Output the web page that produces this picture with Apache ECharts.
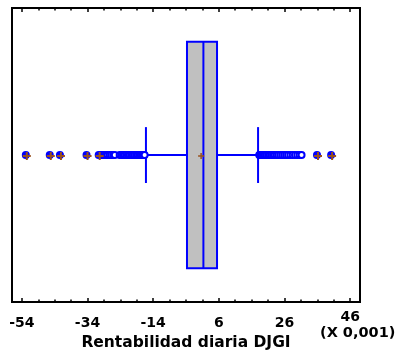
<!DOCTYPE html>
<html>
<head>
<meta charset="utf-8">
<script src="https://cdn.jsdelivr.net/npm/echarts@6/dist/echarts.min.js"></script>
<style>
  html, body { margin: 0; padding: 0; background: #fff; }
  #chart { width: 404px; height: 356px; }
</style>
</head>
<body>
<div id="chart"></div>
<script>
// Daily return of the DJGI index (x 0.001): box-and-whisker summary
// [lower whisker, Q1, median, Q3, upper whisker]
const boxStats = [-16.2, -3.7, 1.3, 5.45, 17.95];
const meanValue = 0.6;
// Points beyond the whiskers
const outsidePoints = [
  -30.1, -29.6, -29.0, -28.4, -27.9, -27.3, -26.8, -26.2, -25.7,
  -24.2, -23.7, -23.2, -22.7, -22.2, -21.7, -21.2, -20.7, -20.2, -19.7,
  -19.2, -18.7, -18.2, -17.8, -17.4, -17.0, -16.6,
  18.3, 18.7, 19.1, 19.6, 20.0, 20.5, 21.0, 21.5, 22.0, 22.5, 23.0, 23.6,
  24.1, 24.7, 25.3, 25.9, 26.5, 27.1, 27.8, 28.5, 29.2, 29.9, 30.6, 31.2
];
// Far outside points
const farOutsidePoints = [-52.8, -45.5, -42.4, -34.3, -30.6, 35.9, 40.2];
// Axis ticks
const majorTicks = [-54, -34, -14, 6, 26, 46];
const minorTicks = [-49, -44, -39, -29, -24, -19, -9, -4, 1, 11, 16, 21, 31, 36, 41];
const xMin = -57, xMax = 49;
const xTitle = 'Rentabilidad diaria DJGI';
const scaleNote = '(X 0,001)';

const BLUE = '#0000ff';
const BROWN = '#98501e';
const FONT = '"DejaVu Sans", Verdana, sans-serif';
const PLUS = 'path://M3,0h2v3h3v2h-3v3h-2v-3h-3v-2h3z';
const ROW = 0.5;

function tickAxis(position, ticks, len, labels, margin) {
  return {
    type: 'value', min: xMin, max: xMax, position: position,
    axisLine: { show: false },
    splitLine: { show: false },
    axisTick: { show: true, inside: true, length: len, customValues: ticks,
                lineStyle: { color: '#000', width: 1.5 } },
    axisLabel: labels ? { show: true, customValues: labels, margin: margin,
                          color: '#000', fontFamily: FONT, fontWeight: 'bold', fontSize: 14 }
                      : { show: false }
  };
}

const chart = echarts.init(document.getElementById('chart'), null, { renderer: 'canvas' });

const bottomMajor = tickAxis('bottom', majorTicks, 4, majorTicks.slice(0, 5), 14);
bottomMajor.name = xTitle;
bottomMajor.nameLocation = 'middle';
bottomMajor.nameGap = 26;
bottomMajor.nameTextStyle = { color: '#000', fontFamily: FONT, fontWeight: 'bold', fontSize: 15.5 };

chart.setOption({
  animation: false,
  backgroundColor: '#fff',
  grid: { left: 12, right: 44, top: 8, bottom: 53, show: true,
          borderColor: '#000', borderWidth: 2, backgroundColor: '#fff' },
  xAxis: [
    bottomMajor,
    tickAxis('bottom', minorTicks, 2.5, majorTicks.slice(5), 8),
    tickAxis('top', majorTicks, 4, null),
    tickAxis('top', minorTicks, 2.5, null)
  ],
  yAxis: { type: 'value', min: 0, max: 1, show: false },
  graphic: [{
    type: 'text', left: 320, top: 326,
    style: { text: scaleNote, fill: '#000', font: 'bold 14.5px ' + FONT }
  }],
  series: [
    {
      type: 'custom',
      xAxisIndex: 0,
      encode: { x: [0, 1, 2, 3, 4] },
      data: [boxStats],
      renderItem: function (params, api) {
        const lo = api.value(0), q1 = api.value(1), med = api.value(2),
              q3 = api.value(3), hi = api.value(4);
        const boxHalf = 0.385, capHalf = 0.095;
        const pLo = api.coord([lo, ROW]), pQ1 = api.coord([q1, ROW]);
        const pQ3 = api.coord([q3, ROW]), pHi = api.coord([hi, ROW]);
        const pMed = api.coord([med, ROW]);
        const top = api.coord([q1, ROW + boxHalf])[1];
        const bot = api.coord([q1, ROW - boxHalf])[1];
        const capTop = api.coord([lo, ROW + capHalf])[1];
        const capBot = api.coord([lo, ROW - capHalf])[1];
        const line = { stroke: BLUE, lineWidth: 2 };
        return {
          type: 'group',
          children: [
            { type: 'line', shape: { x1: pLo[0], y1: pLo[1], x2: pQ1[0], y2: pQ1[1] }, style: line },
            { type: 'line', shape: { x1: pQ3[0], y1: pQ3[1], x2: pHi[0], y2: pHi[1] }, style: line },
            { type: 'line', shape: { x1: pLo[0], y1: capTop, x2: pLo[0], y2: capBot }, style: line },
            { type: 'line', shape: { x1: pHi[0], y1: capTop, x2: pHi[0], y2: capBot }, style: line },
            { type: 'rect', shape: { x: pQ1[0], y: top, width: pQ3[0] - pQ1[0], height: bot - top },
              style: { fill: '#c0c0c0', stroke: BLUE, lineWidth: 2 } },
            { type: 'line', shape: { x1: pMed[0], y1: top, x2: pMed[0], y2: bot }, style: line }
          ]
        };
      }
    },
    {
      type: 'scatter', xAxisIndex: 0,
      data: outsidePoints.map(v => [v, ROW]),
      symbol: 'circle', symbolSize: 6,
      itemStyle: { color: '#fff', borderColor: BLUE, borderWidth: 2, opacity: 1 }
    },
    {
      type: 'scatter', xAxisIndex: 0,
      data: farOutsidePoints.map(v => [v, ROW]),
      symbol: 'circle', symbolSize: 8,
      itemStyle: { color: BLUE, opacity: 1 }
    },
    {
      type: 'scatter', xAxisIndex: 0,
      data: farOutsidePoints.map(v => [v, ROW]),
      symbol: PLUS, symbolSize: 8, symbolOffset: [1, 1],
      itemStyle: { color: BROWN, opacity: 1 }
    },
    {
      type: 'scatter', xAxisIndex: 0,
      data: [[meanValue, ROW]],
      symbol: PLUS, symbolSize: 6, symbolOffset: [0, 1],
      itemStyle: { color: BROWN, opacity: 1 }
    }
  ]
});
</script>
</body>
</html>
